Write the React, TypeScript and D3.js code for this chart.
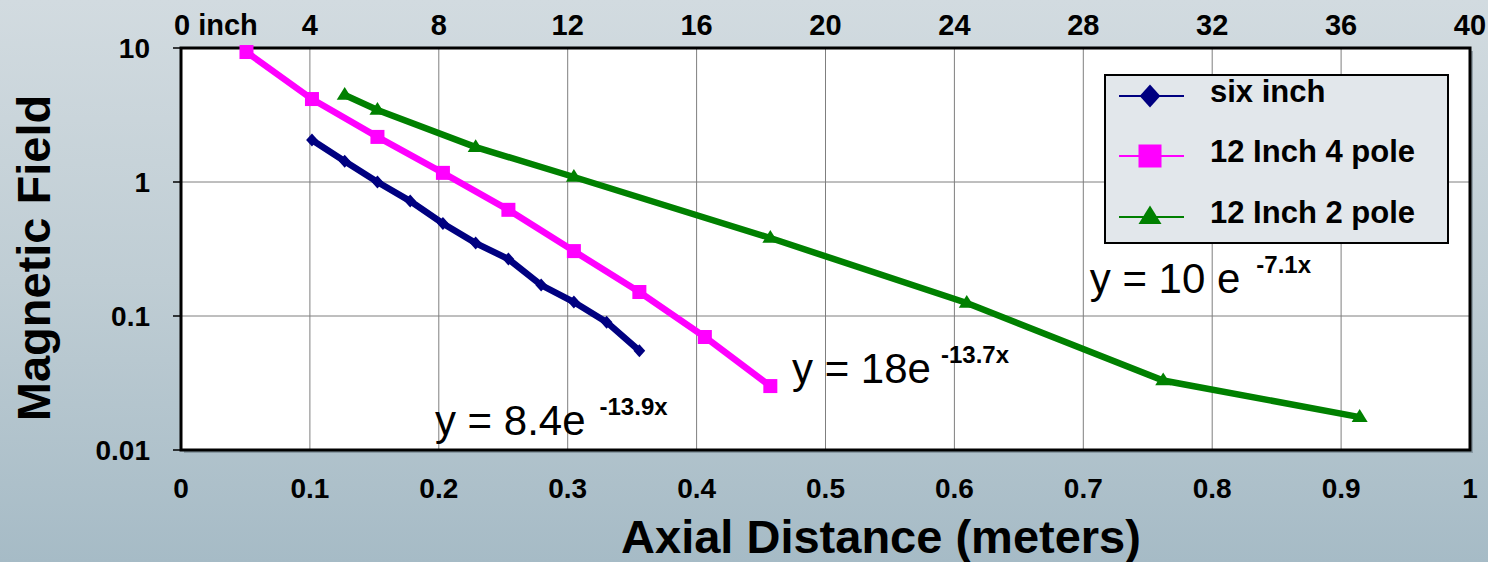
import React from "react";
import * as d3 from "d3";

const sixInchX = [0.1016, 0.127, 0.1524, 0.1778, 0.2032, 0.2286, 0.254, 0.2794, 0.3048, 0.3302, 0.3556];
const sixInchY = [2.06, 1.43, 1.0, 0.72, 0.49, 0.35, 0.266, 0.17, 0.127, 0.09, 0.055];
const fourPoleX = [0.0508, 0.1016, 0.1524, 0.2032, 0.254, 0.3048, 0.3556, 0.4064, 0.4572];
const fourPoleY = [9.33, 4.16, 2.17, 1.17, 0.62, 0.305, 0.151, 0.0697, 0.03];
const twoPoleX = [0.127, 0.1524, 0.2286, 0.3048, 0.4572, 0.6096, 0.762, 0.9144];
const twoPoleY = [4.46, 3.45, 1.82, 1.09, 0.382, 0.125, 0.033, 0.0176];

const seriesNames = ["six inch", "12 Inch 4 pole", "12 Inch 2 pole"];
const seriesColors = ["#000080", "#ff00ff", "#008000"];
const seriesMarkers = ["diamond", "square", "triangle"];

const xTicks = [0, 0.1, 0.2, 0.3, 0.4, 0.5, 0.6, 0.7, 0.8, 0.9, 1];
const xTickLabels = ["0", "0.1", "0.2", "0.3", "0.4", "0.5", "0.6", "0.7", "0.8", "0.9", "1"];
const inchTicks = [0, 4, 8, 12, 16, 20, 24, 28, 32, 36, 40];
const inchTickLabels = ["0 inch", "4", "8", "12", "16", "20", "24", "28", "32", "36", "40"];
const yTicks = [0.01, 0.1, 1, 10];
const yTickLabels = ["0.01", "0.1", "1", "10"];

const eqMain = ["y = 8.4e", "y = 18e", "y = 10 e"];
const eqSup = ["-13.9x", "-13.7x", "-7.1x"];
const eqAtX = [0.197, 0.474, 0.705];
const eqAtY = [0.0129, 0.0314, 0.148];

const W = 1488, H = 562;
const L = 181, R = 1470, T = 48, B = 450;

const FONT = "'Liberation Sans', Arial, sans-serif";

function marker(type: string, cx: number, cy: number, s: number, color: string, key: string) {
  if (type === "diamond") {
    const h = s / 2;
    return <path key={key} d={`M${cx},${cy - h}L${cx + h * 0.9},${cy}L${cx},${cy + h}L${cx - h * 0.9},${cy}Z`} fill={color} />;
  }
  if (type === "square") {
    return <rect key={key} x={cx - s / 2} y={cy - s / 2} width={s} height={s} fill={color} />;
  }
  const h = s * 0.5;
  return <path key={key} d={`M${cx},${cy - h}L${cx + s * 0.5},${cy + h * 0.6}L${cx - s * 0.5},${cy + h * 0.6}Z`} fill={color} />;
}

export default function App() {
  const x = d3.scaleLinear().domain([0, 1]).range([L, R]);
  const xi = d3.scaleLinear().domain([0, 40]).range([L, R]);
  const y = d3.scaleLog().domain([0.01, 10]).range([B, T]);

  const series = [
    { xs: sixInchX, ys: sixInchY, size: 13 },
    { xs: fourPoleX, ys: fourPoleY, size: 14 },
    { xs: twoPoleX, ys: twoPoleY, size: 16 },
  ];
  const line = d3.line<[number, number]>().x((d) => x(d[0])).y((d) => y(d[1]));

  return (
    <svg width={W} height={H} style={{ position: "absolute", left: 0, top: 0 }} fontFamily={FONT}>
      <defs>
        <linearGradient id="bg" x1="0" y1="0" x2="0" y2="1">
          <stop offset="0" stopColor="#d2dbe0" />
          <stop offset="0.5" stopColor="#bfcdd4" />
          <stop offset="1" stopColor="#a6bbc6" />
        </linearGradient>
      </defs>
      <rect x={0} y={0} width={W} height={H} fill="url(#bg)" />
      {/* plot area */}
      <rect x={L + 3} y={T + 3} width={R - L} height={B - T} fill="#6f7f88" opacity={0.6} />
      <rect x={L} y={T} width={R - L} height={B - T} fill="#ffffff" />
      {/* gridlines */}
      {xTicks.slice(1, -1).map((t, i) => (
        <line key={"gx" + i} x1={x(t)} x2={x(t)} y1={T} y2={B} stroke="#7f7f7f" strokeWidth={1} />
      ))}
      {yTicks.slice(1, -1).map((t, i) => (
        <line key={"gy" + i} x1={L} x2={R} y1={y(t)} y2={y(t)} stroke="#7f7f7f" strokeWidth={1} />
      ))}
      <rect x={L} y={T} width={R - L} height={B - T} fill="none" stroke="#000" strokeWidth={3} />
      {/* y ticks */}
      {yTicks.map((t, i) => (
        <g key={"yt" + i}>
          <line x1={L - 8} x2={L} y1={y(t)} y2={y(t)} stroke="#000" strokeWidth={1.5} />
          <text x={150} y={y(t)} dy="0.36em" textAnchor="end" fontSize={28} fontWeight="bold">
            {yTickLabels[i]}
          </text>
        </g>
      ))}
      {/* bottom x ticks */}
      {xTicks.map((t, i) => (
        <text key={"xt" + i} x={x(t)} y={498} textAnchor="middle" fontSize={28} fontWeight="bold">
          {xTickLabels[i]}
        </text>
      ))}
      {/* top inch ticks */}
      {inchTicks.map((t, i) => (
        <text key={"it" + i} x={i === 0 ? xi(t) - 7 : xi(t)} y={35} textAnchor={i === 0 ? "start" : "middle"} fontSize={29} fontWeight="bold">
          {inchTickLabels[i]}
        </text>
      ))}
      {/* series */}
      {series.map((s, si) => {
        const pts = s.xs.map((v, k) => [v, s.ys[k]] as [number, number]);
        return (
          <g key={"s" + si}>
            <path d={line(pts) || ""} fill="none" stroke={seriesColors[si]} strokeWidth={6.5} strokeLinejoin="miter" />
            {pts.map((p, k) => marker(seriesMarkers[si], x(p[0]), y(p[1]), s.size, seriesColors[si], "m" + si + "-" + k))}
          </g>
        );
      })}
      {/* equations */}
      {eqMain.map((e, i) => (
        <text key={"eq" + i} x={x(eqAtX[i])} y={y(eqAtY[i])} fontSize={42} fill="#000">
          {e}
          <tspan dx={i === 0 ? 14 : i === 1 ? 10 : 16} dy={-20} fontSize={24} fontWeight="bold">
            {eqSup[i]}
          </tspan>
        </text>
      ))}
      {/* legend */}
      <rect x={1105} y={75} width={343} height={168} fill="#e2e7eb" stroke="#000" strokeWidth={2} />
      {seriesNames.map((n, i) => {
        const cy = [96, 156, 217][i];
        return (
          <g key={"lg" + i}>
            <line x1={1119} x2={1184} y1={cy} y2={cy} stroke={seriesColors[i]} strokeWidth={2} />
            {marker(seriesMarkers[i], 1150, cy, 23, seriesColors[i], "lm" + i)}
            <text x={1210} y={cy + 6} fontSize={31} fontWeight="bold">
              {n}
            </text>
          </g>
        );
      })}
      {/* axis titles */}
      <text x={881} y={553} textAnchor="middle" fontSize={47} fontWeight="bold">
        Axial Distance (meters)
      </text>
      <text transform="translate(50,258) rotate(-90)" textAnchor="middle" fontSize={47} fontWeight="bold">
        Magnetic Field
      </text>
    </svg>
  );
}
